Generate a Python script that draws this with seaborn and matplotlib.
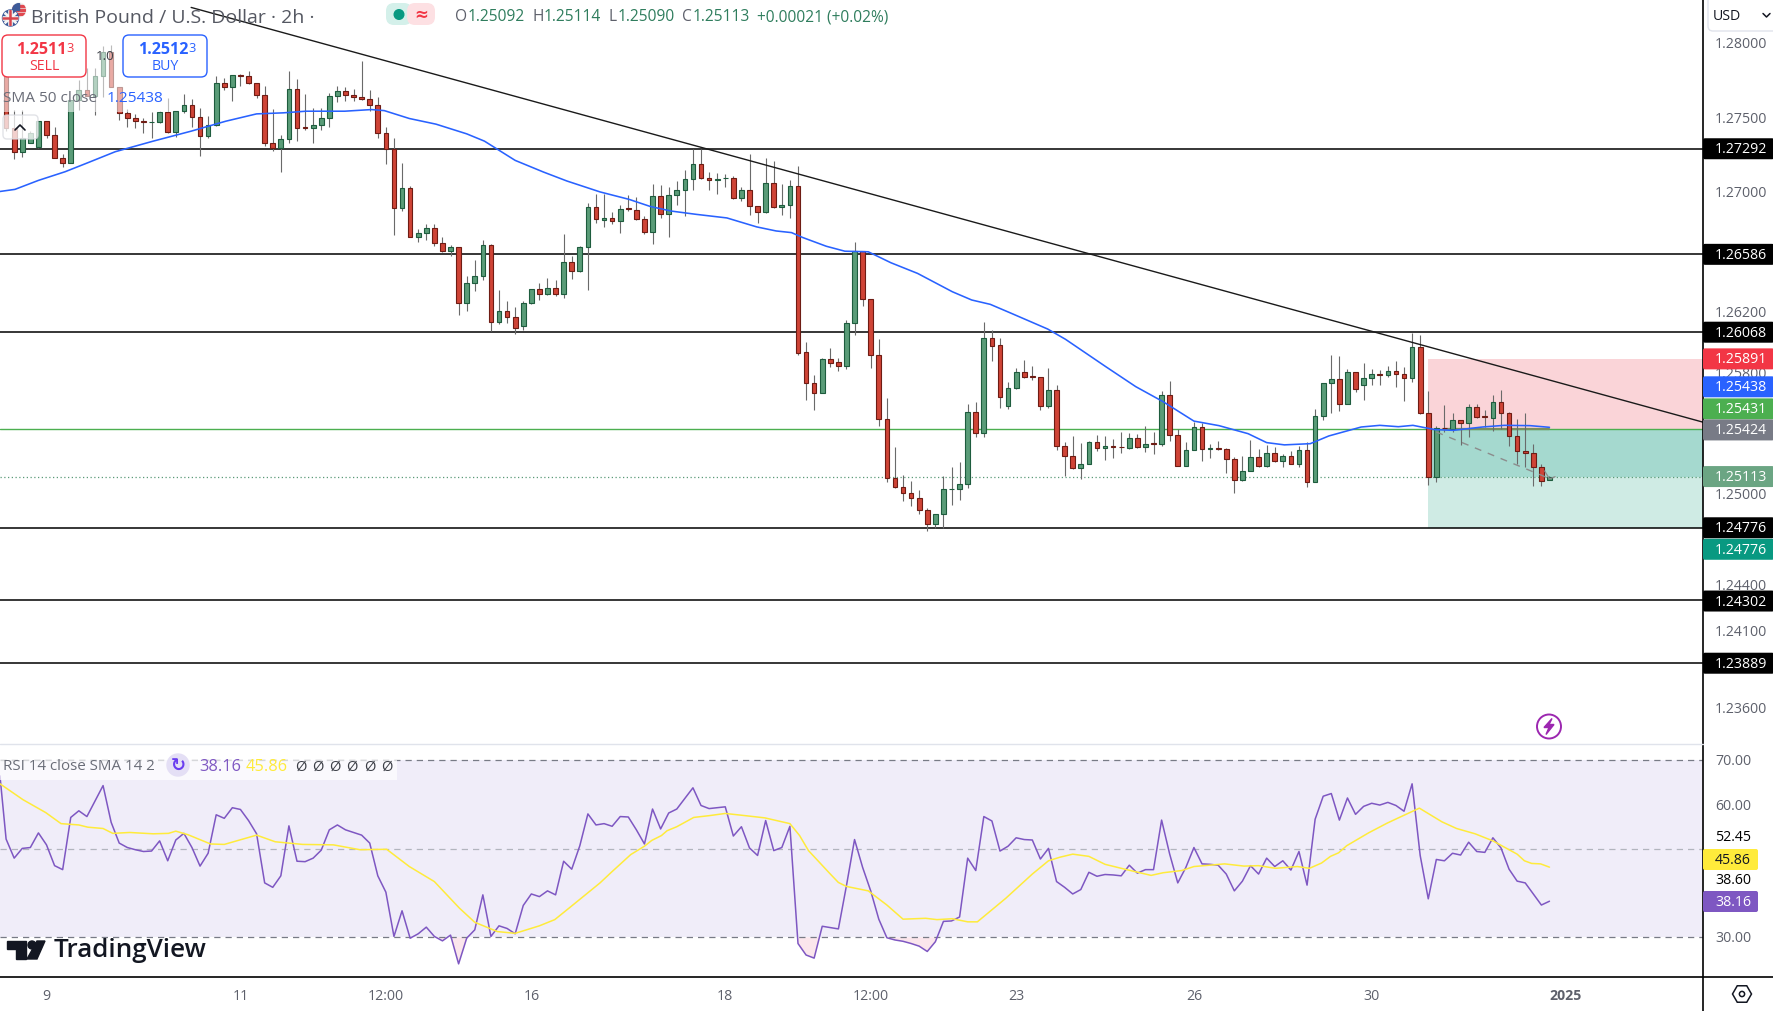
import numpy as np
import matplotlib
matplotlib.use("Agg")
import matplotlib.pyplot as plt
import seaborn as sns
from matplotlib.lines import Line2D
from matplotlib.patches import Circle, FancyBboxPatch, Polygon, Rectangle, RegularPolygon
from matplotlib.transforms import Affine2D, ScaledTranslation

# candle prices in 1e-5 units
open_pts = [127778,127432,127270,127332,127303,127477,127386,127232,127198,127622,
    127689,127644,127778,127945,127707,127533,127499,127477,127470,127470,
    127537,127406,127544,127586,127506,127379,127450,127733,127705,127787,
    127780,127733,127653,127332,127296,127359,127693,127435,127432,127450,
    127499,127644,127680,127653,127640,127626,127584,127399,127292,126897,
    127031,126703,126730,126763,126663,126607,126636,126262,126395,126440,
    126650,126135,126208,126168,126106,126262,126355,126320,126362,126320,
    126536,126476,126636,126904,
    126815,126831,126809,126893,126884,126824,126738,126977,126855,126981,
    127017,127090,127190,127096,127081,127094,127096,126961,127017,126911,
    126868,127063,126902,126917,127043,125935,125729,125667,125888,125868,
    125846,126127,126605,126286,125915,125496,125101,125042,125008,124969,
    124896,124800,124869,125028,125028,125061,125536,125403,126027,125981,
    125581,125696,125802,125775,125769,125581,125682,125315,125251,125171,
    125198,125344,125302,125317,125310,125302,125370,125308,125333,125330,
    125649,125390,125184,125291,
    125442,125295,125300,125297,125231,125093,125152,125245,125183,125271,
    125216,125251,125198,125291,125080,125515,125732,125756,125594,125805,
    125717,125763,125792,125783,125811,125789,125763,125970,125532,125111,
    125436,125429,125488,125466,125574,125510,125499,125607,125532,125383,
    125282,125269,125177,125092]
close_pts = [127432,127270,127366,127399,127477,127383,127232,127198,127622,127689,
    127644,127783,127945,127707,127533,127499,127477,127470,127473,127537,
    127406,127546,127586,127506,127379,127450,127733,127705,127787,127778,
    127733,127653,127332,127296,127359,127693,127432,127430,127453,127499,
    127647,127680,127651,127638,127626,127584,127399,127292,126897,127031,
    126703,126730,126763,126663,126607,126636,126262,126395,126445,126650,
    126135,126208,126168,126094,126262,126355,126322,126362,126320,126536,
    126476,126636,126904,126824,
    126831,126809,126891,126888,126822,126736,126977,126855,126983,127017,
    127090,127190,127096,127081,127090,127096,126961,127017,126908,126868,
    127063,126902,126917,127043,125932,125729,125667,125888,125866,125846,
    126127,126605,126286,125915,125496,125101,125042,125008,124969,124896,
    124800,124869,125028,125031,125061,125536,125403,126027,125979,125636,
    125696,125802,125773,125771,125581,125682,125315,125251,125171,125198,
    125344,125302,125317,125308,125306,125370,125308,125330,125328,125649,
    125388,125184,125291,125443,
    125295,125300,125295,125229,125093,125152,125245,125185,125271,125216,
    125251,125198,125291,125078,125515,125732,125756,125594,125805,125693,
    125763,125789,125787,125809,125789,125763,125970,125532,125111,125436,
    125431,125488,125466,125574,125506,125506,125607,125532,125383,125282,
    125269,125177,125084,125113]
high_pts = [127934,127555,127555,127410,127477,127477,127439,127254,127622,127756,
    127834,127834,127983,127990,127707,127562,127526,127499,127537,127544,
    127633,127546,127662,127626,127566,127510,127783,127767,127787,127796,
    127816,127733,127716,127560,127381,127816,127760,127662,127566,127566,
    127667,127716,127707,127696,127883,127684,127640,127439,127366,127194,
    127042,126752,126786,126790,126699,126645,126636,126440,126545,126685,
    126656,126351,126277,126235,126273,126355,126395,126429,126418,126719,
    126574,126641,126926,126986,
    126986,126866,126913,126979,126972,126840,127057,127052,127039,127079,
    127149,127292,127292,127138,127132,127123,127110,127039,127255,126911,
    127228,127208,127057,127083,127178,126003,125784,125897,125961,125897,
    126149,126669,126610,126286,126023,125631,125308,125124,125084,125024,
    124909,124869,125115,125175,125208,125592,125605,126136,126083,126027,
    125735,125828,125884,125844,125773,125828,125715,125344,125379,125335,
    125348,125386,125379,125364,125410,125401,125392,125445,125410,125678,
    125742,125428,125339,125474,
    125466,125326,125346,125304,125242,125247,125357,125293,125319,125306,
    125264,125280,125315,125343,125557,125732,125919,125912,125825,125805,
    125866,125825,125818,125847,125880,125836,126062,126051,125675,125445,
    125583,125535,125488,125590,125594,125550,125649,125688,125539,125495,
    125535,125330,125198,125114]
low_pts = [127410,127221,127238,127332,127299,127366,127227,127169,127198,127555,
    127644,127517,127638,127707,127484,127437,127428,127395,127366,127466,
    127399,127372,127533,127437,127243,127366,127444,127689,127611,127711,
    127729,127633,127310,127276,127136,127332,127343,127421,127328,127421,
    127439,127606,127611,127615,127622,127544,127366,127187,126714,126875,
    126699,126670,126681,126641,126603,126574,126184,126206,126340,126413,
    126079,126121,126132,126057,126083,126257,126284,126318,126311,126295,
    126422,126467,126346,126797,
    126769,126787,126729,126875,126813,126720,126654,126829,126702,126913,
    126842,127019,127090,127019,126986,127039,126953,126939,126846,126793,
    126860,126897,126846,126829,125917,125618,125552,125667,125839,125811,
    125824,126050,126242,125831,125448,125079,125035,124951,124920,124865,
    124752,124776,124776,124924,124960,125035,125375,125375,125877,125567,
    125561,125693,125766,125751,125554,125567,125286,125114,125162,125096,
    125193,125282,125220,125238,125266,125297,125302,125275,125260,125315,
    125348,125182,125182,125286,
    125216,125236,125286,125137,125005,125086,125150,125177,125177,125212,
    125177,125196,125177,125045,125078,125484,125532,125543,125590,125671,
    125616,125715,125721,125770,125704,125609,125737,125528,125056,125078,
    125407,125407,125319,125374,125502,125440,125414,125429,125315,125198,
    125177,125051,125049,125090]

# SMA 50
sma_idx = [-1,1.1,4,7.3,10.1,13.5,18.2,22.9,27.2,31,34.3,37.1,41.9,45.2,46.8,49.9,53.2,57,59.2,63,66.5,69.4,
    73.5,77.1,79.7,82.3,85.4,89.2,92.9,95.3,97.2,98.6,101.5,103.8,106.7,109.5,112.8,117.1,119.5,121.8,124.2,128.9,131.1,136.1,139.8,143.2,147,
    150.1,153.7,156,158.2,161.4,163.7,167.7,170,172.3,174.1,176.8,179.1,182.7,185.4,188.6,191]
sma_pts = [127004,127020,127080,127138,127198,127272,127343,127410,127477,127526,127533,127544,127544,127555,127548,127495,127457,127392,127343,127214,127136,127076,
    127003,126953,126906,126875,126853,126829,126769,126742,126731,126698,126640,126607,126603,126530,126459,126337,126282,126253,126198,126089,126021,125839,125707,125607,125479,
    125449,125396,125337,125322,125330,125381,125440,125451,125442,125451,125423,125418,125440,125451,125449,125438]

# levels
black_levels = [1.27292, 1.26586, 1.26068, 1.24776, 1.24302, 1.23889]
green_level = 1.25424
last_price = 1.25113
stop_price = 1.25891
target_price = 1.24776
trend_idx = [22.9, 210]
trend_price = [1.28243, 1.25472]
path_idx = [177, 191]
path_price = [1.25407, 1.25100]

# RSI and its SMA
rsi_start = 66.5
rsi_vals = [52.2,47.9,50.1,50.3,53.6,50.9,46.2,45.3,57.1,58.6,57.3,60.8,64.3,56.0,51.3,50.3,49.8,49.4,49.5,51.8,
    47.3,52.0,53.5,50.3,46.1,49.0,57.7,56.9,59.3,58.9,56.4,53.4,42.3,41.3,43.9,55.2,47.2,47.1,47.9,49.7,
    54.3,55.4,54.3,53.7,53.1,51.3,43.9,40.2,30.2,36.0,29.8,30.8,32.3,30.2,29.2,30.5,24.0,29.8,31.7,39.6,
    30.2,32.6,32.0,30.8,37.2,39.8,39.2,40.5,39.6,47.2,45.4,50.7,57.9,55.4,
    55.7,55.1,57.3,57.2,54.3,51.1,59.0,54.5,58.1,59.0,61.4,63.8,59.8,59.1,59.3,59.5,52.9,55.0,50.2,48.5,
    56.4,49.6,50.3,55.1,28.6,26.0,25.3,32.5,32.2,31.9,41.7,52.1,45.8,40.5,34.1,29.9,29.4,29.1,28.6,28.0,
    26.8,29.0,33.6,33.7,34.6,47.9,45.1,57.3,56.3,49.5,50.6,52.5,52.1,52.0,47.7,50.1,42.6,41.3,39.8,40.8,
    44.7,43.8,44.2,44.1,43.9,46.3,44.5,45.3,45.3,56.5,48.8,42.3,45.8,50.3,
    46.6,46.5,46.3,44.3,40.5,42.7,46.2,44.3,47.9,46.0,47.3,45.2,49.4,41.8,56.7,61.9,62.5,56.5,61.5,57.8,
    59.6,60.3,59.9,60.5,59.8,58.5,64.7,48.5,38.7,47.6,47.3,49.0,48.6,51.5,49.4,49.2,52.5,50.2,45.4,42.7,
    42.3,39.8,37.3,38.16]
rsi_sma_idx = [-0.76,2.1,4.9,6.8,9,10.1,12,13.2,15.3,18.2,20.1,21,22.5,25.3,27,31,33.3,36.7,40.5,43.8,47.1,49.9,53,56.1,58,60.8,63,66,67.9,69.8,
    73.5,74.9,77.3,79,79.9,81.1,81.8,83,85.1,87,89,91,93.9,97,98.2,99.3,101.9,103,104,106.7,109,111,113.8,115.2,117.1,119,120.2,123.7,127,129,130.4,132,134,136,138.9,141.7,143.2,145.5,147,
    150.8,153.2,155,157.1,159.8,161.3,162.8,163.9,164.9,165.9,168.6,170.9,172.3,174.9,177.7,179.5,181.8,184,187,187.9,188.8,189.9,191]
rsi_sma_vals = [64.7,61.1,58.2,55.7,55.4,54.9,54.6,53.5,53.7,53.4,53.5,54.0,53.2,51.1,51.0,53.1,51.6,51.0,50.9,49.8,49.9,46.0,42.6,36.6,33.4,31.3,30.9,32.6,34.0,36.8,
    42.3,44.7,48.7,50.6,51.9,53.0,54.1,55.0,57.1,57.5,58.0,57.6,57.0,55.7,53.0,49.6,44.5,42.4,41.5,40.5,37.3,34.1,34.3,34.0,34.2,33.5,33.5,38.8,44.3,47.3,48.1,48.8,48.3,46.5,45.2,44.0,44.6,45.1,46.0,
    46.6,46.1,46.2,45.6,46.0,45.6,46.8,48.3,49.1,50.7,53.6,55.8,57.0,59.2,56.1,54.6,53.4,51.8,48.8,47.3,46.7,46.6,45.86]

price_ticks = [1.28, 1.275, 1.27, 1.262, 1.258, 1.25, 1.244, 1.241, 1.236]
rsi_ticks = [70, 60, 30]
date_idx = [5, 29, 47, 65, 89, 107, 125, 147, 169, 193]
date_labels = ['9', '11', '12:00', '16', '18', '12:00', '23', '26', '30', '2025']

W, H = 1774, 1012
UP, DOWN = '#5a9c78', '#cf4436'
UP_EDGE, DOWN_EDGE = '#1e5c3e', '#6e1c14'
GRAY = '#5d606b'
TEAL = '#2f7d5d'

sns.set_theme(style="white")
plt.rcParams['font.family'] = ['Open Sans', 'DejaVu Sans']

fig = plt.figure(figsize=(W / 100, H / 100), dpi=100, facecolor='white')
to_px = Affine2D().scale(1 / W, -1 / H).translate(0, 1) + fig.transFigure
renderer = fig.canvas.get_renderer()


def put_text(x, y, s, size=10.2, color=GRAY, ha='left', **kw):
    return fig.text(x, y, s, transform=to_px, fontsize=size, color=color, ha=ha, va='center', zorder=7, **kw)


def put_box(x, y, w, h, face, edge='none', r=3, z=5, alpha=None, lw=1):
    p = FancyBboxPatch((x, y), w, h, boxstyle=f'round,pad=0,rounding_size={r}', transform=to_px,
                       facecolor=face, edgecolor=edge, zorder=z, alpha=alpha, linewidth=lw)
    fig.add_artist(p)
    return p


def put_line(xs, ys, color='black', lw=1.1, z=6):
    fig.add_artist(Line2D(xs, ys, transform=to_px, color=color, lw=lw, zorder=z))


def run_text(x, y, pieces, size, gap=0):
    for s, c in pieces:
        t = put_text(x, y, s, size=size, color=c)
        x += t.get_window_extent(renderer).width + gap
    return x


def nudge_labels(labels, dy_px):
    # move tick labels only, the ticks stay on their values
    shift = ScaledTranslation(0, dy_px / 100, fig.dpi_scale_trans)
    for lbl in labels:
        lbl.set_transform(lbl.get_transform() + shift)


# price panel
ax = fig.add_axes([0, 1 - 745 / H, 1703 / W, 745 / H])
ax.set_yscale('log')
ax.set_xlim(-0.755, 210)
ax.set_ylim(1.23363, 1.28300)

idx = np.arange(len(open_pts))
o, c = np.array(open_pts) / 1e5, np.array(close_pts) / 1e5
h, l = np.array(high_pts) / 1e5, np.array(low_pts) / 1e5
up = c >= o

# risk/reward boxes of the short position
ax.fill_between([176, 210], green_level, stop_price, color='#fad4d8', lw=0, zorder=1)
ax.fill_between([176, 210], last_price, green_level, color='#a5d9cf', lw=0, zorder=1)
ax.fill_between([176, 210], target_price, last_price, color='#cfebe4', lw=0, zorder=1)

ax.axhline(green_level, color='#4caf50', lw=1.0, zorder=2)
ax.plot([178, 191], [green_level, green_level], color='#7a8f5e', lw=1.6, zorder=2)
ax.axhline(last_price, color='#5b9a78', lw=0.9, ls=(0, (1, 2)), zorder=2)
for level in black_levels:
    ax.axhline(level, color='black', lw=1.1, zorder=2)

ax.vlines(idx, l, h, color='#6a6a6a', lw=0.8, zorder=3)
ax.bar(idx[up], np.maximum(c[up] - o[up], 1e-5), bottom=o[up], width=0.58, color=UP, edgecolor=UP_EDGE, lw=0.8, zorder=3.5)
ax.bar(idx[~up], np.maximum(o[~up] - c[~up], 1e-5), bottom=c[~up], width=0.58, color=DOWN, edgecolor=DOWN_EDGE, lw=0.8, zorder=3.5)

sns.lineplot(x=sma_idx, y=np.array(sma_pts) / 1e5, ax=ax, color='#2962ff', lw=1.15, estimator=None, sort=False, zorder=4)
sns.lineplot(x=trend_idx, y=trend_price, ax=ax, color='#1a1a1a', lw=1.0, estimator=None, sort=False, zorder=4)
ax.plot(path_idx, path_price, color='#8c8c8c', lw=1.0, ls=(0, (5, 5)), zorder=4)
ax.plot([190.4, 191, 191.7], [1.25150, 1.25098, 1.25112], color='#8c8c8c', lw=0.9, zorder=4)

ax.set_xticks([])
ax.yaxis.tick_right()
ax.minorticks_off()
ax.set_yticks(price_ticks)
ax.set_yticklabels([f'{p:.5f}' for p in price_ticks])
ax.tick_params(axis='y', which='both', length=0, pad=8.6, labelsize=10.2, labelcolor=GRAY)
nudge_labels(ax.get_yticklabels(), 1.5)
ax.set_xlabel('')
ax.set_ylabel('')
sns.despine(ax=ax, left=True, bottom=True, right=True, top=True)

# RSI panel
ax2 = fig.add_axes([0, 1 - 978 / H, 1703 / W, 233 / H])
ax2.set_xlim(-0.755, 210)
ax2.set_ylim(21.03, 73.7)
ax2.patch.set_alpha(0)
ax2.fill_between([-0.755, 210], 30, 70, color='#f0edf9', lw=0, zorder=1)
rsi_x = np.array([-0.76] + list(idx), dtype=float)
rsi_y = np.array([rsi_start] + rsi_vals)
ax2.fill_between(rsi_x, rsi_y, 30, where=rsi_y < 30, interpolate=True, color='#fbe6ec', lw=0, zorder=1)
ax2.axhline(70, color='#787b86', lw=0.9, ls=(0, (5, 4)), zorder=2)
ax2.axhline(50, color='#b2b5be', lw=0.9, ls=(0, (5, 4)), zorder=2)
ax2.axhline(30, color='#787b86', lw=0.9, ls=(0, (5, 4)), zorder=2)
sns.lineplot(x=rsi_x, y=rsi_y, ax=ax2, color='#7e57c2', lw=1.1, estimator=None, sort=False, zorder=3)
sns.lineplot(x=rsi_sma_idx, y=rsi_sma_vals, ax=ax2, color='#ffeb3b', lw=1.1, estimator=None, sort=False, zorder=4)
ax2.yaxis.tick_right()
ax2.set_yticks(rsi_ticks)
ax2.set_yticklabels([f'{v:.2f}' for v in rsi_ticks])
ax2.tick_params(axis='y', length=0, pad=8.6, labelsize=10.2, labelcolor=GRAY)
nudge_labels(ax2.get_yticklabels(), 1.5)
ax2.set_xticks(date_idx)
ax2.set_xticklabels(date_labels)
ax2.tick_params(axis='x', length=0, pad=7.8, labelsize=10.2, labelcolor=GRAY)
ax2.get_xticklabels()[-1].set_fontweight('bold')
ax2.set_ylabel('')
sns.despine(ax=ax2, left=True, bottom=True, right=True, top=True)

# frame lines
put_line([1703, 1703], [0, 1012], lw=1.2)
put_line([0, 1774], [978, 978], lw=1.2)
put_line([0, 1703], [745, 745], color='#e0e3eb', lw=1.0)


# price tags: placed on the price where they can be, nudged when they stack
def price_y(price):
    return H - ax.transData.transform((0, price))[1]


def tag(price, color, shift=0, text_color='white'):
    y = price_y(price) + shift
    put_box(1703, y - 10.5, 71, 21, color, r=2, z=6)
    put_text(1715, y, f'{price:.5f}', color=text_color)


for level in black_levels[:3]:
    tag(level, 'black')
tag(stop_price, '#f23645')
tag(1.25438, '#2962ff', shift=-40.5)
tag(1.25431, '#4caf50', shift=-19.5)
tag(green_level, '#787b86', shift=0.5)
tag(last_price, '#6ba583')
tag(target_price, 'black')
tag(target_price, '#089981', shift=21.5)
tag(black_levels[4], 'black', shift=1)
tag(black_levels[5], 'black')

put_text(1715, 838, '52.45', color='black')
put_box(1703, 850, 55, 21, '#ffeb3b', r=2, z=6)
put_text(1715, 860.5, '45.86', color='#131722')
put_text(1715, 881, '38.60', color='black')
put_box(1703, 892, 55, 21, '#7e57c2', r=2, z=6)
put_text(1715, 902.5, '38.16', color='white')

# USD selector
put_box(1708, -3, 70, 35, 'white', edge='#e0e3eb', r=5)
run_text(1713, 16, [('USD', '#131722')], 10.2)
put_line([1763, 1766.5, 1770], [14.5, 18, 14.5], color='#131722', lw=1.1, z=7)

# header
run_text(31, 18, [('British Pound / U.S. Dollar · 2h ·', '#555862')], 14)
put_box(386, 4, 26, 22, '#d4f0ea', r=8)
put_box(407, 4, 28, 22, '#fde0e3', r=8)
fig.add_artist(Circle((399, 15.5), 4.8, transform=to_px, color='#089981', zorder=6))
put_text(421, 15, '≈', size=12, color='#f23645', ha='center', family=['DejaVu Sans'], weight='bold')
x = 455
for lab, val in [('O', '1.25092'), ('H', '1.25114'), ('L', '1.25090'), ('C', '1.25113')]:
    x = run_text(x, 17, [(lab, GRAY), (val, TEAL)], 11.2) + 8
run_text(x, 17, [('+0.00021 (+0.02%)', TEAL)], 11.2)

# flags
uk = Circle((10.5, 19), 8, transform=to_px, color='#3d5a98', zorder=6)
us = Circle((19, 11), 7, transform=to_px, color='#f1f1f1', zorder=5.5)
fig.add_artist(us)
fig.add_artist(uk)
for yy in (7, 11, 15):
    bar = Rectangle((12, yy - 1), 14, 2, transform=to_px, color='#e0484f', zorder=5.6)
    fig.add_artist(bar)
    bar.set_clip_path(us)
canton = Rectangle((12, 4), 7, 7, transform=to_px, color='#3d5a98', zorder=5.7)
fig.add_artist(canton)
canton.set_clip_path(us)
for xs, ys, col, lw in [([2.5, 18.5], [12, 26], '#f4f4f4', 2), ([2.5, 18.5], [26, 12], '#f4f4f4', 2),
                        ([10.5, 10.5], [11, 27], '#f4f4f4', 3.4), ([2.5, 18.5], [19, 19], '#f4f4f4', 3.4),
                        ([10.5, 10.5], [11, 27], '#d8434b', 1.8), ([2.5, 18.5], [19, 19], '#d8434b', 1.8)]:
    ln = Line2D(xs, ys, transform=to_px, color=col, lw=lw, zorder=6.2)
    fig.add_artist(ln)
    ln.set_clip_path(uk)

# trade widget over the candles
fig.add_artist(Rectangle((0, 30), 170, 83, transform=to_px, color='white', alpha=0.55, lw=0, zorder=4.5))
put_box(2, 36, 84, 42, 'white', edge='#f23645', r=6, lw=1)
put_box(123, 36, 84, 42, 'white', edge='#2962ff', r=6, lw=1)
put_text(16, 50, '1.2511', size=11.6, color='#f23645', weight='bold')
put_text(66.5, 48, '3', size=9.2, color='#f23645')
put_text(44, 67, 'SELL', size=10.2, color='#f23645', ha='center')
put_text(138, 50, '1.2512', size=11.6, color='#2962ff', weight='bold')
put_text(188.5, 48, '3', size=9.2, color='#2962ff')
put_text(165, 67, 'BUY', size=10.2, color='#2962ff', ha='center')
put_text(105, 56, '1.0', size=9.6, color='#3c3f47', ha='center')
put_text(3, 98, 'SMA 50 close', size=11.1, color='#6a6d78')
put_text(107, 98, '1.25438', size=11.1, color='#2962ff')
put_box(3, 116, 35, 24, 'white', edge='#d8dae0', r=4, alpha=0.75)
put_line([15, 20, 25], [131, 126, 131], color='#131722', lw=1.2, z=7)

# RSI legend
fig.add_artist(Rectangle((0, 761), 397, 20, transform=to_px, color='white', alpha=0.7, lw=0, zorder=4.5))
put_text(3, 767, 'RSI 14 close SMA 14 2', size=10.9, color='#6a6d78')
fig.add_artist(Circle((178, 766), 11, transform=to_px, color='#e4dff5', zorder=5))
put_text(178, 766, '↻', size=13, color='#6a3df0', ha='center', family=['DejaVu Sans'], weight='bold')
put_text(199, 767, '38.16', size=11.8, color='#7e57c2')
put_text(246, 767, '45.86', size=11.8, color='#ffeb3b')
for k in range(6):
    put_text(295 + k * 17.2, 767, 'Ø', size=10.6, color='#3c3f47')

# lightning badge
fig.add_artist(Circle((1549, 727.5), 12, transform=to_px, facecolor='white', edgecolor='#9c27b0', lw=1.4, zorder=5))
fig.add_artist(Polygon([(1552, 719.5), (1544, 728.5), (1549, 728.5), (1546, 735.5), (1554, 725.5), (1549, 725.5)],
                       transform=to_px, color='#9c27b0', zorder=6))

# gear badge
fig.add_artist(RegularPolygon((1742, 995), 6, radius=9.5, orientation=np.pi / 6, transform=to_px,
                              facecolor='white', edgecolor='#131722', lw=1.1, zorder=6))
fig.add_artist(Circle((1742, 995), 2.6, transform=to_px, facecolor='white', edgecolor='#131722', lw=1.1, zorder=7))

# TradingView logo
LOGO = '#131722'
fig.add_artist(Polygon([(7, 942), (26, 942), (26, 960), (16, 960), (16, 950), (7, 950)], transform=to_px, color=LOGO, zorder=6))
fig.add_artist(Circle((32, 946), 4, transform=to_px, color=LOGO, zorder=6))
fig.add_artist(Polygon([(37, 942), (45, 942), (37, 960), (27, 960)], transform=to_px, color=LOGO, zorder=6))
put_text(54, 951, 'TradingView', size=18.7, color=LOGO, weight='semibold')

fig.savefig('out.png', dpi=100)
